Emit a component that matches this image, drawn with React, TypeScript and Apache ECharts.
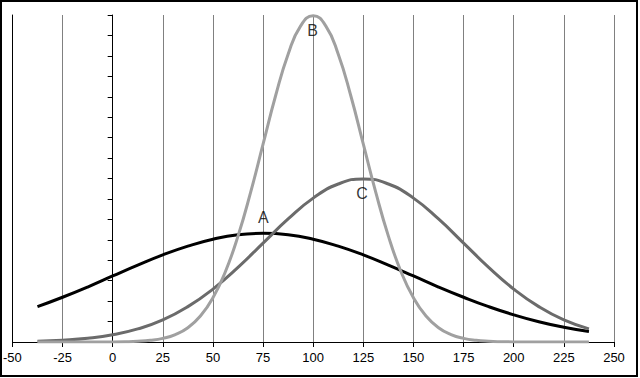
import React, { useEffect, useRef } from "react";
import * as echarts from "echarts";

// x positions of the sampled points for curves A and C
const xValues = [
  -37.5, -25, -12.5, 0, 12.5, 25, 37.5, 50, 62.5, 75, 87.5, 100, 112.5, 125,
  137.5, 150, 162.5, 175, 187.5, 200, 212.5, 225, 237.5,
];

// Curve A (black, wide)
const seriesA = [
  1.73, 2.19, 2.69, 3.23, 3.76, 4.26, 4.69, 5.03, 5.25, 5.32, 5.25, 5.03, 4.69,
  4.26, 3.76, 3.23, 2.69, 2.19, 1.73, 1.33, 0.99, 0.72, 0.51,
];

// Curve C (dark grey)
const seriesC = [
  0.04, 0.09, 0.18, 0.35, 0.64, 1.08, 1.73, 2.59, 3.65, 4.84, 6.02, 7.04, 7.73,
  7.98, 7.73, 7.04, 6.02, 4.84, 3.65, 2.59, 1.73, 1.08, 0.64,
];

// Curve B (light grey, narrow and tall) - read more densely
const xValuesB = [
  -37.5, -18.75, 0, 6.25, 12.5, 18.75, 25, 31.25, 37.5, 43.75, 50, 56.25, 62.5,
  68.75, 75, 81.25, 87.5, 93.75, 100, 106.25, 112.5, 118.75, 125, 131.25, 137.5,
  143.75, 150, 156.25, 162.5, 168.75, 175, 181.25, 187.5, 193.75, 200, 218.75,
  237.5,
];
const seriesB = [
  0, 0, 0.005, 0.014, 0.035, 0.081, 0.177, 0.364, 0.7, 1.27, 2.16, 3.45, 5.18,
  7.31, 9.68, 12.05, 14.08, 15.47, 15.96, 15.47, 14.08, 12.05, 9.68, 7.31, 5.18,
  3.45, 2.16, 1.27, 0.7, 0.364, 0.177, 0.081, 0.035, 0.014, 0.005, 0, 0,
];

// Curve name labels
const labelNames = ["A", "B", "C"];
const labelX = [75.4, 100, 124.6];
const labelY = [6.08, 15.22, 7.25];

const xTickMin = -50;
const xTickMax = 250;
const xTickStep = 25;

const FONT = "'Liberation Sans', Arial, sans-serif";

export default function App() {
  const ref = useRef<HTMLDivElement>(null);

  useEffect(() => {
    if (!ref.current) return;
    const chart = echarts.init(ref.current, null, { renderer: "svg" });
    const toPairs = (xs: number[], ys: number[]) => xs.map((x, i) => [x, ys[i]]);
    const lineSeries = (name: string, xs: number[], ys: number[], color: string) => ({
      name,
      type: "line",
      data: toPairs(xs, ys),
      smooth: 0.5,
      showSymbol: false,
      symbol: "none",
      lineStyle: { color, width: 3 },
      xAxisIndex: 0,
      yAxisIndex: 0,
      z: 3,
    });

    chart.setOption({
      animation: false,
      backgroundColor: "#ffffff",
      grid: { left: 12, top: 15, width: 602, height: 327, containLabel: false },
      xAxis: [
        {
          type: "value",
          min: xTickMin,
          max: xTickMax,
          interval: xTickStep,
          axisLine: { show: true, onZero: false, lineStyle: { color: "#000", width: 1 } },
          axisTick: { show: true, length: 5, lineStyle: { color: "#000" } },
          axisLabel: {
            show: true,
            color: "#000",
            fontFamily: FONT,
            fontSize: 13,
            margin: 9,
          },
          splitLine: { show: true, lineStyle: { color: "#808080", width: 1 } },
        },
      ],
      yAxis: [
        {
          type: "value",
          min: 0,
          max: 16,
          interval: 1,
          axisLine: { show: true, onZero: true, lineStyle: { color: "#000", width: 1 } },
          axisTick: { show: true, inside: false, length: 5, lineStyle: { color: "#000" } },
          axisLabel: { show: false },
          splitLine: { show: false },
        },
        {
          type: "value",
          min: 0,
          max: 16,
          interval: 1,
          position: "left",
          axisLine: { show: true, onZero: false, lineStyle: { color: "#000", width: 1 } },
          axisTick: { show: false },
          axisLabel: { show: false },
          splitLine: { show: false },
        },
      ],
      series: [
        lineSeries("A", xValues, seriesA, "#000000"),
        lineSeries("C", xValues, seriesC, "#6b6b6b"),
        lineSeries("B", xValuesB, seriesB, "#a0a0a0"),
        {
          name: "labels",
          type: "scatter",
          symbolSize: 1,
          itemStyle: { color: "rgba(0,0,0,0)" },
          data: labelNames.map((n, i) => ({ name: n, value: [labelX[i], labelY[i]] })),
          label: {
            show: true,
            position: [0, 0],
            align: "center",
            verticalAlign: "middle",
            formatter: (p: any) => p.name,
            color: "#000000",
            textBorderWidth: 0,
            fontFamily: FONT,
            fontSize: 16,
          },
          emphasis: { disabled: true },
          z: 5,
        },
      ],
      graphic: [
        {
          type: "rect",
          shape: { x: 1, y: 1, width: 636, height: 375 },
          style: { fill: "none", stroke: "#000", lineWidth: 2 },
          z: 10,
        },
      ],
    });
    return () => chart.dispose();
  }, []);

  return (
    <div
      ref={ref}
      style={{ position: "absolute", left: 0, top: 0, width: 640, height: 378, background: "#fff" }}
    />
  );
}
